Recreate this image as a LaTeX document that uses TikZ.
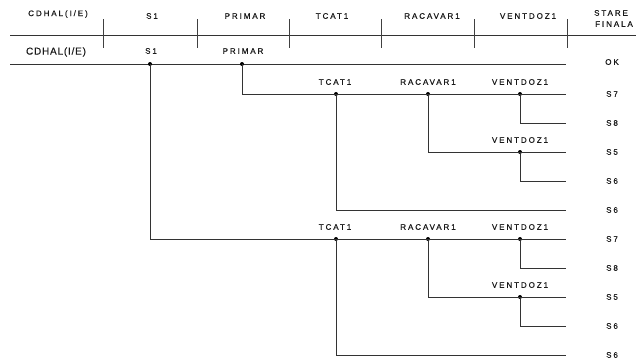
\documentclass[tikz,border=0pt]{standalone}
\usepackage{fontspec}
\newfontfamily\lab[LetterSpace=24,FakeBold=0.6]{Liberation Sans}
\newfontfamily\labbig[LetterSpace=8,FakeBold=0.4]{Liberation Sans}
\begin{document}
\begin{tikzpicture}[x=1pt,y=-1pt,
  lbl/.style={inner sep=0pt, font=\lab\fontsize{8}{9}\selectfont, text=black!90},
  lblbig/.style={inner sep=0pt, font=\labbig\fontsize{10}{11}\selectfont, text=black!90},
  wire/.style={line width=0.9pt, draw=black!80},
  tickline/.style={line width=0.9pt, draw=black!75},
  dot/.style={circle, fill=black, inner sep=0pt, minimum size=4pt}]
\useasboundingbox (0,0) rectangle (636,360);
% header
\node[lbl] (h1) at (58,14) {CDHAL(I/E)};
\node[lbl] (h2) at (152,16) {S1};
\node[lbl] (h3) at (245,16) {PRIMAR};
\node[lbl] (h4) at (332,16) {TCAT1};
\node[lbl] (h5) at (432,16) {RACAVAR1};
\node[lbl] (h6) at (528,16) {VENTDOZ1};
\node[lbl] (h7) at (611,13) {STARE};
\node[lbl] (h8) at (614,24) {FINALA};
\coordinate (hl) at (10,35);
\coordinate (hr) at (636,35);
\draw[wire] (hl) -- (hr);
\foreach \x in {103,197,289,381,474,567} \draw[tickline] (\x,19) -- (\x,48);
% second row
\node[lblbig] (r1) at (56,52) {CDHAL(I/E)};
\node[lbl] (r2) at (151,51) {S1};
\node[lbl] (r3) at (243,51) {PRIMAR};
\node[lbl] (ok) at (612,62) {OK};
\coordinate (ml) at (10,64);
\coordinate (mr) at (566,64);
\draw[wire] (ml) -- (mr);
\node[dot] (s1) at (150,64) {};
\node[dot] (pr) at (242,64) {};
% branches
\foreach \b/\i in {94/a,239/b} {
  \node[lbl] (lt\i) at (335,\b-12) {TCAT1};
  \node[lbl] (lr\i) at (428,\b-12) {RACAVAR1};
  \node[lbl] (lv\i) at (520,\b-12) {VENTDOZ1};
  \node[lbl] (lw\i) at (520,\b+46) {VENTDOZ1};
  \coordinate (e1\i) at (566,\b);
  \coordinate (e2\i) at (566,\b+29);
  \coordinate (e3\i) at (566,\b+58);
  \coordinate (e4\i) at (566,\b+87);
  \coordinate (e5\i) at (566,\b+116);
  \node[dot] (tc\i) at (336,\b) {};
  \node[dot] (rv\i) at (428,\b) {};
  \node[dot] (vd\i) at (520,\b) {};
  \node[dot] (vw\i) at (520,\b+58) {};
  \draw[wire] (vd\i.center) |- (e2\i);
  \draw[wire] (rv\i.center) |- (e3\i);
  \draw[wire] (vw\i.center) |- (e4\i);
  \draw[wire] (tc\i.center) |- (e5\i);
  \node[lbl] (sa\i) at (612,\b) {S7};
  \node[lbl] (sb\i) at (612,\b+29) {S8};
  \node[lbl] (sc\i) at (612,\b+58) {S5};
  \node[lbl] (sd\i) at (612,\b+87) {S6};
  \node[lbl] (se\i) at (612,\b+116) {S6};
}
\draw[wire] (pr.center) |- (e1a);
\draw[wire] (s1.center) |- (e1b);
\end{tikzpicture}
\end{document}
